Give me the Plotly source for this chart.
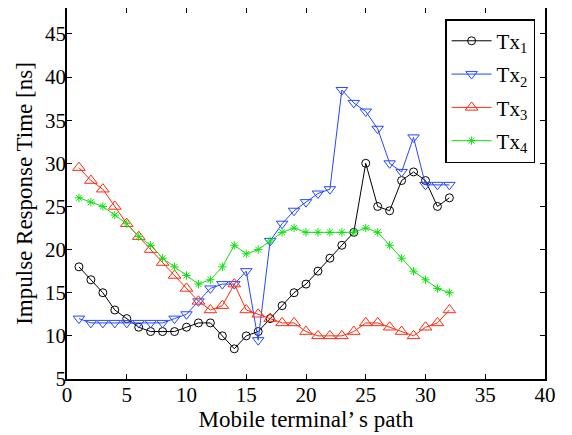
import plotly.graph_objects as go

path = list(range(1, 33))
tx1 = [18, 16.5, 15, 13, 12, 11, 10.5, 10.5, 10.5, 11, 11.5, 11.5, 10, 8.5, 10, 10.5,
       12, 13.5, 15, 16, 17.5, 19, 20.5, 22, 30, 25, 24.5, 28, 29, 28, 25, 26]
tx2 = [12, 11.5, 11.5, 11.5, 11.5, 11.5, 11.5, 11.5, 12, 12.5, 14, 15.5, 16, 16, 17.5, 9.5,
       21, 23, 24.5, 25.5, 26.5, 27, 38.5, 37, 36, 34, 30, 29, 33, 27.5, 27.5, 27.5]
tx3 = [29.5, 28, 27, 25, 23, 21.5, 20, 18.5, 17, 15.5, 14, 13, 13.5, 16, 13, 12.5,
       12, 11.5, 11.5, 10.5, 10, 10, 10, 10.5, 11.5, 11.5, 11, 10.5, 10, 11, 11.5, 13]
tx4 = [26, 25.5, 25, 24, 23, 21.5, 20.5, 19, 18, 17, 16, 16.5, 18, 20.5, 19.5, 20,
       21, 22, 22.5, 22, 22, 22, 22, 22, 22.5, 22, 20.5, 19, 17.5, 16.5, 15.5, 15]

names = ["Tx<sub>1</sub>", "Tx<sub>2</sub>", "Tx<sub>3</sub>", "Tx<sub>4</sub>"]
series = [tx1, tx2, tx3, tx4]
colors = ["black", "#2448ff", "#ff2a10", "#10e010"]
symbols = ["circle-open", "triangle-down-open", "triangle-up-open", "asterisk-open"]
sizes = [8, 10, 11, 7]

fig = go.Figure()
for i, (n, s, c, sym, sz) in enumerate(zip(names, series, colors, symbols, sizes)):
    fig.add_trace(go.Scatter(
        x=path, y=s, name=n, mode="lines+markers", legendgroup=f"g{i}",
        line=dict(color=c, width=1),
        marker=dict(symbol=sym, size=sz, color=c, line=dict(color=c, width=1)),
    ))

# The page body has an 8px default margin; the figure is placed so that the
# plot area lands where the reference has it inside the 572x435 window.
font = "Liberation Serif, Times New Roman, serif"
axis_common = dict(
    showline=True, linecolor="black", linewidth=1.5, mirror="ticks",
    ticks="inside", ticklen=5, tickcolor="black", showgrid=False, zeroline=False,
    automargin=False,
    tickfont=dict(family=font, size=21, color="black"),
)
fig.update_layout(
    width=556, height=425,
    margin=dict(l=59, r=19, t=0, b=54),
    plot_bgcolor="white", paper_bgcolor="white",
    font=dict(family=font, color="black"),
    xaxis=dict(range=[0, 40], dtick=5, tick0=0, ticklabelstandoff=-4,
               title=dict(text="Mobile terminal’ s path", font=dict(family=font, size=23), standoff=4),
               **axis_common),
    yaxis=dict(range=[5, 48], dtick=5, tick0=5, ticklabelstandoff=-5,
               title=dict(text="Impulse Response Time [ns]", font=dict(family=font, size=23), standoff=6),
               **axis_common),
    legend=dict(x=0.791, y=0.97, xanchor="left", yanchor="top",
                bordercolor="black", borderwidth=1.5, bgcolor="white",
                font=dict(family=font, size=21), itemwidth=40, tracegroupgap=3),
    showlegend=True,
)
fig.write_html("out.html")
